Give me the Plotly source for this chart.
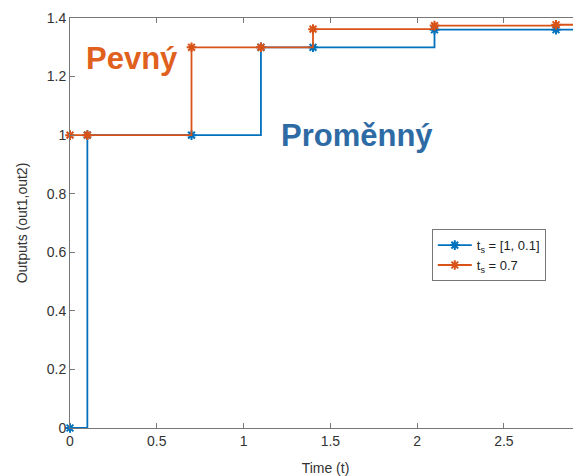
import plotly.graph_objects as go

t_var = [0, 0.1, 0.7, 1.1, 1.4, 2.1, 2.8, 3.5]
y_var = [0, 1, 1, 1.3, 1.3, 1.36, 1.36, 1.36]
t_fix = [0, 0.1, 0.7, 1.1, 1.4, 2.1, 2.8, 3.5]
y_fix = [1, 1, 1.3, 1.3, 1.362, 1.374, 1.377, 1.377]

blue = "#0072BD"
orange = "#D95319"

fig = go.Figure()
fig.add_trace(go.Scatter(x=t_var, y=y_var, mode="lines+markers", line_shape="hv",
                         name="t<sub>s</sub> = [1, 0.1]",
                         line=dict(color=blue, width=1.8),
                         marker=dict(symbol="asterisk-open", size=8, line=dict(color=blue, width=2)),
                         cliponaxis=False))
fig.add_trace(go.Scatter(x=t_fix, y=y_fix, mode="lines+markers", line_shape="hv",
                         name="t<sub>s</sub> = 0.7",
                         line=dict(color=orange, width=1.8),
                         marker=dict(symbol="asterisk-open", size=8, line=dict(color=orange, width=2)),
                         cliponaxis=False))

fig.add_annotation(x=0.082, y=1.263, text="<b>Pevný</b>", showarrow=False, xanchor="left",
                   font=dict(family="Liberation Sans", size=31, color="#E0601E"))
fig.add_annotation(x=1.205, y=1.0, text="<b>Proměnný</b>", showarrow=False, xanchor="left",
                   font=dict(family="Liberation Sans", size=31, color="#2E6BA5"))

axis_common = dict(showgrid=False, zeroline=False, showline=True, linecolor="#777",
                   linewidth=1, ticks="inside", ticklen=5, tickcolor="#777", mirror="ticks",
                   automargin=False,
                   tickfont=dict(family="Liberation Sans", size=14, color="#333"))
fig.update_xaxes(range=[0, 2.944], tickvals=[0, 0.5, 1, 1.5, 2, 2.5],
                 ticktext=["0", "0.5", "1", "1.5", "2", "2.5"],
                 title=dict(text="Time (t)", font=dict(family="Liberation Sans", size=14, color="#333")),
                 **axis_common)
fig.update_yaxes(range=[0, 1.4], tickvals=[0, 0.2, 0.4, 0.6, 0.8, 1, 1.2, 1.4],
                 ticktext=["0", "0.2", "0.4", "0.6", "0.8", "1", "1.2", "1.4"],
                 title=dict(text="Outputs (out1,out2)", font=dict(family="Liberation Sans", size=14, color="#333")),
                 **axis_common)

fig.update_layout(width=573, height=468, margin=dict(l=62, r=0, t=10, b=48, autoexpand=False),
                  paper_bgcolor="white", plot_bgcolor="white",
                  legend=dict(x=0.708, y=0.485, xanchor="left", yanchor="top",
                              bgcolor="white", bordercolor="#777", borderwidth=1,
                              font=dict(family="Liberation Sans", size=13, color="#222"),
                              tracegroupgap=0, itemwidth=34))
fig.write_html("out.html")
